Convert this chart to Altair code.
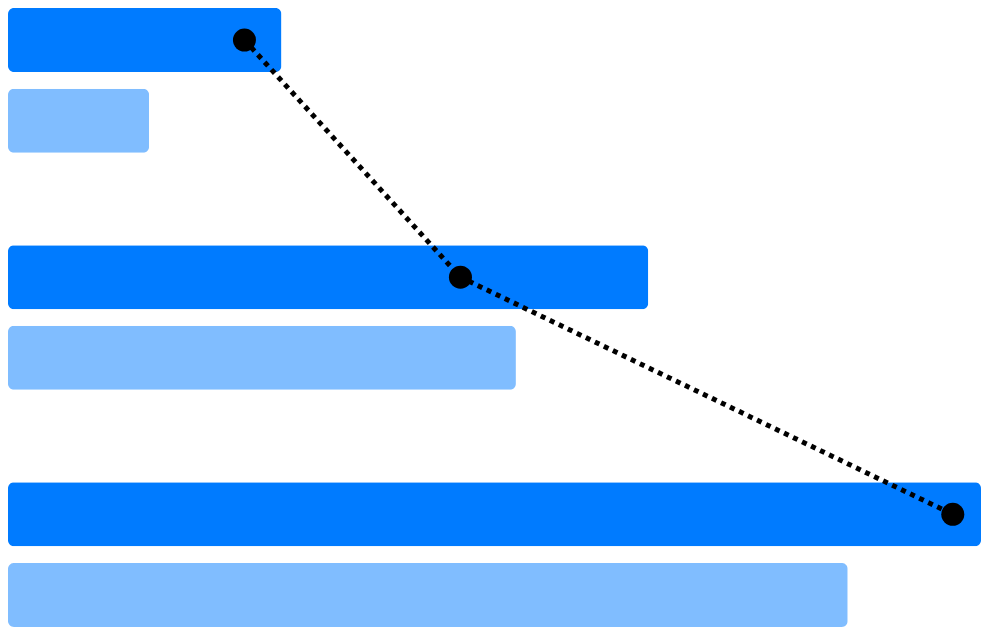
import altair as alt
import pandas as pd

groups = ["G1", "G2", "G3"]
series = ["dark", "light"]
dark_values = [28.1, 65.8, 100.0]
light_values = [14.5, 52.2, 86.3]
line_values = [24.3, 46.5, 97.1]

bars = pd.DataFrame({
    "group": groups * 2,
    "series": ["dark"] * 3 + ["light"] * 3,
    "value": dark_values + light_values,
})
line = pd.DataFrame({
    "group": groups,
    "series": ["dark"] * 3,
    "value": line_values,
})

W, H = 973, 619

x_scale = alt.Scale(domain=[0, 100], nice=False, zero=True)
y_enc = alt.Y("group:N", sort=groups, axis=None,
              scale=alt.Scale(paddingInner=0.39, paddingOuter=0))
yoff_enc = alt.YOffset("series:N", sort=series,
                       scale=alt.Scale(domain=series, paddingInner=0.206, paddingOuter=0))

bar_layer = alt.Chart(bars).mark_bar(cornerRadius=6).encode(
    x=alt.X("value:Q", scale=x_scale, axis=None),
    y=y_enc,
    yOffset=yoff_enc,
    color=alt.Color("series:N", scale=alt.Scale(domain=series, range=["#007bff", "#80bdff"]), legend=None),
)

line_layer = alt.Chart(line).mark_line(color="black", strokeWidth=5, strokeDash=[5, 5]).encode(
    x=alt.X("value:Q", scale=x_scale, axis=None),
    y=y_enc,
    yOffset=yoff_enc,
)

point_layer = alt.Chart(line).mark_circle(color="black", opacity=1, size=530).encode(
    x=alt.X("value:Q", scale=x_scale, axis=None),
    y=y_enc,
    yOffset=yoff_enc,
)

chart = alt.layer(bar_layer, line_layer, point_layer).properties(
    width=W, height=H, padding=0, autosize=alt.AutoSizeParams(type="none")
).configure_view(stroke=None)

chart.save("out.html", embed_options={"renderer": "svg", "actions": False})
